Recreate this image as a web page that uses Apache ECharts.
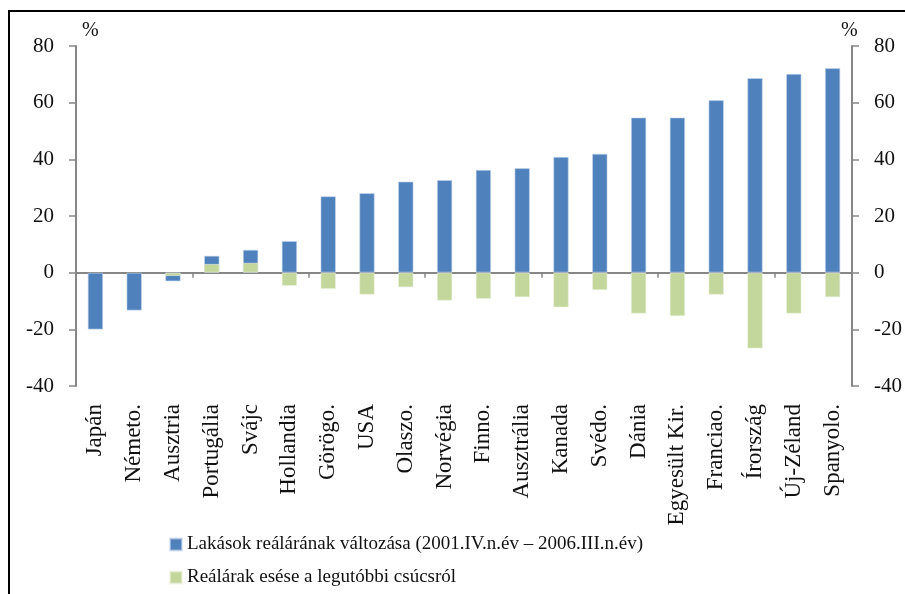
<!DOCTYPE html>
<html>
<head>
<meta charset="utf-8">
<script src="https://cdn.jsdelivr.net/npm/echarts@6/dist/echarts.min.js"></script>
<style>
  html, body { margin: 0; padding: 0; background: #fff; }
  #chart { width: 905px; height: 594px; }
</style>
</head>
<body>
<div id="chart"></div>
<script>
// Országok, a lakásárak reálváltozása szerint sorba rendezve
const categories = ['Japán', 'Németo.', 'Ausztria', 'Portugália', 'Svájc', 'Hollandia', 'Görögo.', 'USA', 'Olaszo.', 'Norvégia', 'Finno.', 'Ausztrália', 'Kanada', 'Svédo.', 'Dánia', 'Egyesült Kir.', 'Franciao.', 'Írország', 'Új-Zéland', 'Spanyolo.'];

// Lakások reálárának változása (%)
const priceChange = [-20.1, -13.4, -3.1, 6.0, 8.1, 11.2, 27.0, 28.1, 32.2, 32.7, 36.3, 36.9, 40.9, 42.0, 54.8, 54.8, 60.9, 68.7, 70.2, 72.2];

// Reálárak esése a legutóbbi csúcsról (%)
const fallFromPeak = [null, null, -1.2, 3.1, 3.5, -4.7, -5.8, -7.8, -5.2, -9.9, -9.3, -8.7, -12.3, -6.2, -14.5, -15.4, -7.8, -26.8, -14.5, -8.7];

const yTicks = { min: -40, max: 80, interval: 20 };

const seriesNames = ['Lakások reálárának változása (2001.IV.n.év – 2006.III.n.év)', 'Reálárak esése a legutóbbi csúcsról'];

const FONT = '"Liberation Serif", "DejaVu Serif", serif';
const AXIS_GRAY = '#868686';

const chart = echarts.init(document.getElementById('chart'), null, { renderer: 'canvas' });

const valueAxis = (position) => ({
  type: 'value',
  position: position,
  min: yTicks.min,
  max: yTicks.max,
  interval: yTicks.interval,
  axisLine: { show: true, lineStyle: { color: AXIS_GRAY, width: 2 } },
  axisTick: { show: true, inside: false, length: 7, lineStyle: { color: AXIS_GRAY, width: 1.5 } },
  axisLabel: { color: '#111', fontFamily: FONT, fontSize: 21, margin: 22 },
  splitLine: { show: false }
});

chart.setOption({
  animation: false,
  backgroundColor: '#fff',
  textStyle: { fontFamily: FONT },
  grid: { left: 76, right: 52, top: 46, bottom: 208, containLabel: false },
  graphic: [
    { type: 'rect', shape: { x: 9, y: 11, width: 1200, height: 1200 }, style: { fill: 'none', stroke: '#000', lineWidth: 2 }, silent: true },
    { type: 'text', left: 82, top: 21, style: { text: '%', font: '20px ' + FONT, fill: '#111' } },
    { type: 'text', left: 841, top: 21, style: { text: '%', font: '20px ' + FONT, fill: '#111' } }
  ],
  legend: {
    orient: 'vertical',
    left: 164,
    top: 530,
    itemWidth: 12,
    itemHeight: 12,
    itemGap: 14,
    icon: 'rect',
    textStyle: { fontFamily: FONT, fontSize: 19, color: '#111' },
    data: seriesNames
  },
  xAxis: [
    {
      // zero line with boundary ticks
      type: 'category',
      data: categories,
      position: 'top',
      boundaryGap: true,
      axisLine: { show: true, onZero: true, lineStyle: { color: AXIS_GRAY, width: 2 } },
      axisTick: { show: true, inside: true, length: 5, lineStyle: { color: AXIS_GRAY, width: 1.5 } },
      axisLabel: { show: false },
      splitLine: { show: false }
    },
    {
      // category names below the plot
      type: 'category',
      data: categories,
      position: 'bottom',
      boundaryGap: true,
      axisLine: { show: false },
      axisTick: { show: false },
      axisLabel: { rotate: 90, interval: 0, margin: 18, color: '#111', fontFamily: FONT, fontSize: 23 },
      splitLine: { show: false }
    }
  ],
  yAxis: [valueAxis('left'), valueAxis('right')],
  series: [
    {
      name: seriesNames[0],
      type: 'bar',
      xAxisIndex: 0,
      yAxisIndex: 0,
      data: priceChange,
      barWidth: '40%',
      barGap: '-100%',
      itemStyle: { color: '#4F81BD', borderColor: 'rgba(200,215,235,0.6)', borderWidth: 1 }
    },
    {
      name: seriesNames[1],
      type: 'bar',
      xAxisIndex: 0,
      yAxisIndex: 0,
      data: fallFromPeak,
      barWidth: '40%',
      barGap: '-100%',
      itemStyle: { color: '#C3D69B', borderColor: 'rgba(235,242,222,0.6)', borderWidth: 1 }
    }
  ]
});
</script>
</body>
</html>
